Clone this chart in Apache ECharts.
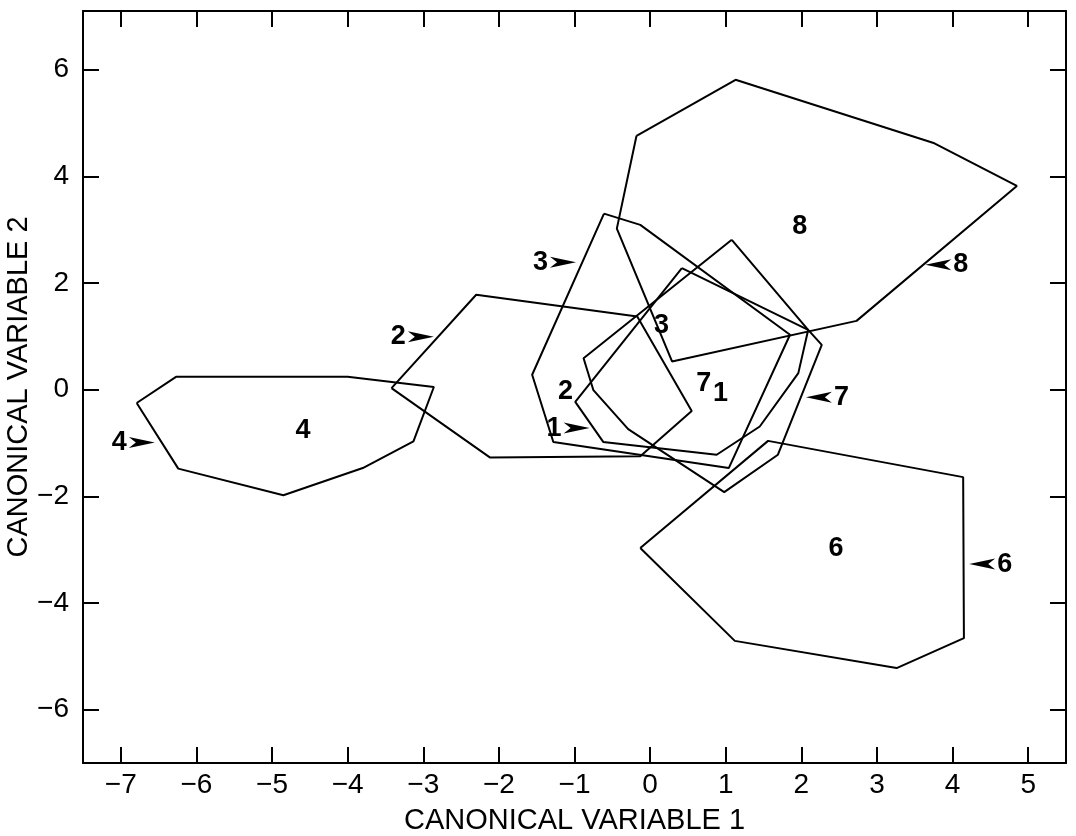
<!DOCTYPE html>
<html>
<head>
<meta charset="utf-8">
<title>Canonical variables</title>
<script src="https://cdn.jsdelivr.net/npm/echarts@6/dist/echarts.min.js"></script>
<style>
  html, body { margin: 0; padding: 0; background: #ffffff; }
  #chart { width: 1076px; height: 836px; }
</style>
</head>
<body>
<div id="chart"></div>
<script>
// Axis ticks
const xTicks = [-7, -6, -5, -4, -3, -2, -1, 0, 1, 2, 3, 4, 5];
const yTicks = [-6, -4, -2, 0, 2, 4, 6];

// Group outlines (canonical variable 1, canonical variable 2)
const group1 = [[0.42, 2.28], [2.09, 1.12], [1.96, 0.31], [1.45, -0.69], [0.88, -1.22], [-0.62, -0.98], [-0.99, -0.23]];
const group2 = [[-3.42, 0.03], [-2.30, 1.78], [-0.17, 1.37], [0.55, -0.40], [-0.13, -1.25], [-2.12, -1.27]];
const group3 = [[-0.61, 3.30], [-0.13, 3.09], [1.85, 1.03], [1.04, -1.47], [-1.28, -0.98], [-1.56, 0.28]];
const group4 = [[-6.79, -0.25], [-6.27, 0.24], [-4.0, 0.24], [-2.86, 0.05], [-3.13, -0.97], [-3.80, -1.47], [-4.85, -1.98], [-6.24, -1.48]];
const group6 = [[-0.13, -2.97], [1.56, -0.96], [4.14, -1.64], [4.15, -4.66], [3.26, -5.22], [1.12, -4.71]];
const group7 = [[1.08, 2.81], [2.09, 1.12], [2.27, 0.84], [1.69, -1.22], [0.98, -1.92], [-0.29, -0.74], [-0.75, -0.01], [-0.88, 0.59]];
const group8 = [[-0.18, 4.76], [-0.44, 3.02], [0.29, 0.53], [2.73, 1.29], [4.85, 3.82], [3.76, 4.62], [1.13, 5.81]];

const groups = [group1, group2, group3, group4, group6, group7, group8];

// Group numbers placed inside the outlines
const centerLabels = ['4', '8', '6', '3', '2', '7', '1'];
const centerX = [-4.59, 1.98, 2.46, 0.15, -1.12, 0.71, 0.93];
const centerY = [-0.77, 3.06, -2.97, 1.21, -0.04, 0.12, -0.07];

// Numbered pointers: tip position on an outline, and which way the arrow points
const pointerLabels = ['4', '2', '3', '1', '7', '8', '6'];
const pointerX = [-6.55, -2.86, -0.98, -0.80, 2.06, 3.64, 4.22];
const pointerY = [-0.99, 0.99, 2.39, -0.72, -0.14, 2.34, -3.27];
const pointerDir = ['right', 'right', 'right', 'right', 'left', 'left', 'left'];

const FONT = '"Liberation Sans", Arial, Helvetica, sans-serif';
const INK = '#000000';

const minusFmt = v => (v < 0 ? '\u2212' + Math.abs(v) : String(v));

const chart = echarts.init(document.getElementById('chart'), null, { renderer: 'canvas' });

const outlineSeries = groups.map(g => ({
  type: 'line',
  data: g.concat([g[0]]),
  showSymbol: false,
  symbol: 'none',
  silent: true,
  lineStyle: { color: INK, width: 2 },
  z: 3
}));

const centerSeries = {
  type: 'custom',
  silent: true,
  data: centerX.map((x, i) => [x, centerY[i]]),
  renderItem: (params, api) => {
    const p = api.coord([api.value(0), api.value(1)]);
    return {
      type: 'text',
      x: p[0],
      y: p[1],
      style: {
        text: centerLabels[params.dataIndex],
        textAlign: 'center',
        textVerticalAlign: 'middle',
        font: 'bold 27px ' + FONT,
        fill: INK
      }
    };
  },
  z: 5
};

const pointerSeries = {
  type: 'custom',
  silent: true,
  data: pointerX.map((x, i) => [x, pointerY[i]]),
  renderItem: (params, api) => {
    const tip = api.coord([api.value(0), api.value(1)]);
    const d = pointerDir[params.dataIndex] === 'right' ? 1 : -1;
    const L = 26, w = 5.5, notch = 7;
    return {
      type: 'group',
      children: [
        {
          type: 'polygon',
          shape: {
            points: [
              [tip[0], tip[1]],
              [tip[0] - d * L, tip[1] - w],
              [tip[0] - d * (L - notch), tip[1]],
              [tip[0] - d * L, tip[1] + w]
            ]
          },
          style: { fill: INK }
        },
        {
          type: 'text',
          x: tip[0] - d * (L + 2),
          y: tip[1],
          style: {
            text: pointerLabels[params.dataIndex],
            textAlign: d > 0 ? 'right' : 'left',
            textVerticalAlign: 'middle',
            font: 'bold 27px ' + FONT,
            fill: INK
          }
        }
      ]
    };
  },
  z: 5
};

const axisLineStyle = { color: INK, width: 2 };

chart.setOption({
  animation: false,
  backgroundColor: '#ffffff',
  grid: { left: 83, right: 10, top: 11, bottom: 73, containLabel: false, outerBoundsMode: 'none' },
  xAxis: [
    {
      type: 'value', min: -7.5, max: 5.5, position: 'bottom',
      name: 'CANONICAL VARIABLE 1', nameLocation: 'middle', nameGap: 43, nameMoveOverlap: false,
      nameTextStyle: { fontFamily: FONT, fontSize: 29, color: INK },
      axisLine: { show: true, onZero: false, lineStyle: axisLineStyle },
      axisTick: { show: true, inside: true, length: 16, customValues: xTicks, lineStyle: axisLineStyle },
      axisLabel: { show: true, customValues: xTicks, formatter: minusFmt, fontFamily: FONT, fontSize: 28, color: INK, margin: 8 },
      splitLine: { show: false }
    },
    {
      type: 'value', min: -7.5, max: 5.5, position: 'top',
      axisLine: { show: true, onZero: false, lineStyle: axisLineStyle },
      axisTick: { show: true, inside: true, length: 16, customValues: xTicks, lineStyle: axisLineStyle },
      axisLabel: { show: false },
      splitLine: { show: false }
    }
  ],
  yAxis: [
    {
      type: 'value', min: -7, max: 7.1, position: 'left',
      name: 'CANONICAL VARIABLE 2', nameLocation: 'middle', nameGap: 50, nameRotate: 90, nameMoveOverlap: false,
      nameTextStyle: { fontFamily: FONT, fontSize: 29, color: INK },
      axisLine: { show: true, onZero: false, lineStyle: axisLineStyle },
      axisTick: { show: true, inside: true, length: 16, customValues: yTicks, lineStyle: axisLineStyle },
      axisLabel: { show: true, customValues: yTicks, formatter: minusFmt, fontFamily: FONT, fontSize: 28, color: INK, margin: 14 },
      splitLine: { show: false }
    },
    {
      type: 'value', min: -7, max: 7.1, position: 'right',
      axisLine: { show: true, onZero: false, lineStyle: axisLineStyle },
      axisTick: { show: true, inside: true, length: 16, customValues: yTicks, lineStyle: axisLineStyle },
      axisLabel: { show: false },
      splitLine: { show: false }
    }
  ],
  series: outlineSeries.concat([centerSeries, pointerSeries])
});
</script>
</body>
</html>
